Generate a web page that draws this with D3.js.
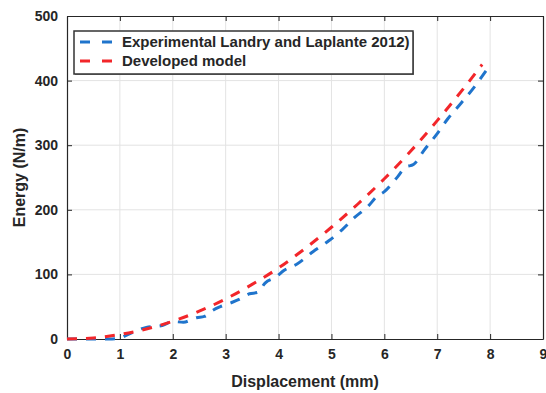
<!DOCTYPE html>
<html>
<head>
<meta charset="utf-8">
<script src="https://cdn.jsdelivr.net/npm/d3@7"></script>
<style>
  body { margin: 0; background: #fff; }
  text { font-family: "Liberation Sans", Arial, sans-serif; font-weight: bold; fill: #262626; }
</style>
</head>
<body>
<svg id="drawing_region"></svg>
<script>
// experimental curve (Landry and Laplante 2012)
const exp_x = [0, 0.8, 1.0, 1.1, 1.5, 1.8, 2.0, 2.2, 2.45, 2.6, 2.75, 2.9, 3.1, 3.3, 3.45, 3.6, 3.75, 3.95, 4.1,
               4.35, 4.65, 4.95, 5.2, 5.45, 5.7, 5.85, 6.0, 6.25, 6.4, 6.55, 6.75, 7.0, 7.2, 7.45, 7.7, 7.93];
const exp_y = [0, 0, 1, 5, 18, 21, 27, 26, 33, 35, 44, 50, 56, 63, 70, 72, 87, 96, 106,
               116, 135, 152, 169, 189, 206, 220, 228, 251, 266, 270, 292, 318, 341, 365, 390, 416];

// developed model
const model_x = [0, 0.5, 1, 1.5, 2, 2.5, 3, 3.5, 4, 4.5, 5, 5.5, 6, 6.5, 7, 7.5, 7.85];
const model_y = [0, 1.7, 7, 15.5, 27.5, 43, 62, 84.5, 110, 140, 173, 209, 248, 291, 338, 388, 425];

const x_ticks = [0, 1, 2, 3, 4, 5, 6, 7, 8, 9];
const y_ticks = [0, 100, 200, 300, 400, 500];
const series_names = ['Experimental Landry and Laplante 2012)', 'Developed model'];

const series = [
    { name: series_names[0], color: '#1f74cc', values: exp_x.map((x, i) => ({ x: x, y: exp_y[i] })) },
    { name: series_names[1], color: '#f2262a', values: model_x.map((x, i) => ({ x: x, y: model_y[i] })) }
];

const config = {
    parent: '#drawing_region',
    width: 546,
    height: 393,
    margin: { top: 16, right: 3, bottom: 54, left: 67 }
};

const svg = d3.select(config.parent)
    .attr('width', config.width)
    .attr('height', config.height);

const inner_width = config.width - config.margin.left - config.margin.right;
const inner_height = config.height - config.margin.top - config.margin.bottom;

const chart = svg.append('g')
    .attr('transform', `translate(${config.margin.left}, ${config.margin.top})`);

const xscale = d3.scaleLinear().domain([0, 9]).range([0, inner_width]);
const yscale = d3.scaleLinear().domain([0, 500]).range([inner_height, 0]);

// grid
chart.append('g')
    .selectAll('line')
    .data(x_ticks.slice(1, -1))
    .join('line')
    .attr('x1', d => xscale(d)).attr('x2', d => xscale(d))
    .attr('y1', 0).attr('y2', inner_height)
    .attr('stroke', '#e3e3e3').attr('stroke-width', 1);

chart.append('g')
    .selectAll('line')
    .data(y_ticks.slice(1, -1))
    .join('line')
    .attr('x1', 0).attr('x2', inner_width)
    .attr('y1', d => yscale(d)).attr('y2', d => yscale(d))
    .attr('stroke', '#e3e3e3').attr('stroke-width', 1);

// axes (ticks inside, like a boxed matlab plot)
const xaxis_group = chart.append('g')
    .attr('transform', `translate(0, ${inner_height})`)
    .call(d3.axisBottom(xscale).tickValues(x_ticks).tickSizeInner(-5).tickSizeOuter(0).tickPadding(10));

const yaxis_group = chart.append('g')
    .call(d3.axisLeft(yscale).tickValues(y_ticks).tickSizeInner(-5).tickSizeOuter(0).tickPadding(9));

chart.append('g')
    .call(d3.axisTop(xscale).tickValues(x_ticks).tickSizeInner(-5).tickSizeOuter(0).tickFormat(''));

chart.append('g')
    .attr('transform', `translate(${inner_width}, 0)`)
    .call(d3.axisRight(yscale).tickValues(y_ticks).tickSizeInner(-5).tickSizeOuter(0).tickFormat(''));

chart.selectAll('.domain').attr('stroke', '#262626').attr('stroke-width', 1.2);
chart.selectAll('.tick line').attr('stroke', '#262626');

xaxis_group.selectAll('text').attr('font-size', '14px').attr('fill', '#262626');
yaxis_group.selectAll('text').attr('font-size', '14px').attr('fill', '#262626');

// lines
const line = d3.line()
    .x(d => xscale(d.x))
    .y(d => yscale(d.y))
    .curve(d3.curveMonotoneX);

chart.selectAll('.series')
    .data(series)
    .join('path')
    .attr('class', 'series')
    .attr('d', d => line(d.values))
    .attr('fill', 'none')
    .attr('stroke', d => d.color)
    .attr('stroke-width', 3)
    .attr('stroke-dasharray', '10 9');

// axis titles
svg.append('text')
    .attr('x', config.margin.left + inner_width / 2)
    .attr('y', 387)
    .attr('text-anchor', 'middle')
    .attr('font-size', '16px')
    .text('Displacement (mm)');

svg.append('text')
    .attr('transform', `translate(25, ${config.margin.top + inner_height / 2}) rotate(-90)`)
    .attr('text-anchor', 'middle')
    .attr('font-size', '16px')
    .text('Energy (N/m)');

// legend
const legend = svg.append('g').attr('transform', 'translate(74, 31)');

legend.append('rect')
    .attr('x', 1).attr('y', 1)
    .attr('width', 339).attr('height', 43)
    .attr('fill', '#8a8a8a');

legend.append('rect')
    .attr('width', 339).attr('height', 43)
    .attr('fill', '#fff')
    .attr('stroke', '#333').attr('stroke-width', 1.5);

const legend_item = legend.selectAll('.item')
    .data(series)
    .join('g')
    .attr('class', 'item')
    .attr('transform', (d, i) => `translate(0, ${11 + i * 19})`);

legend_item.append('line')
    .attr('x1', 6).attr('x2', 38)
    .attr('stroke', d => d.color)
    .attr('stroke-width', 3)
    .attr('stroke-dasharray', '10 12');

legend_item.append('text')
    .attr('x', 48)
    .attr('dy', '0.35em')
    .attr('font-size', '15px')
    .text(d => d.name);
</script>
</body>
</html>
